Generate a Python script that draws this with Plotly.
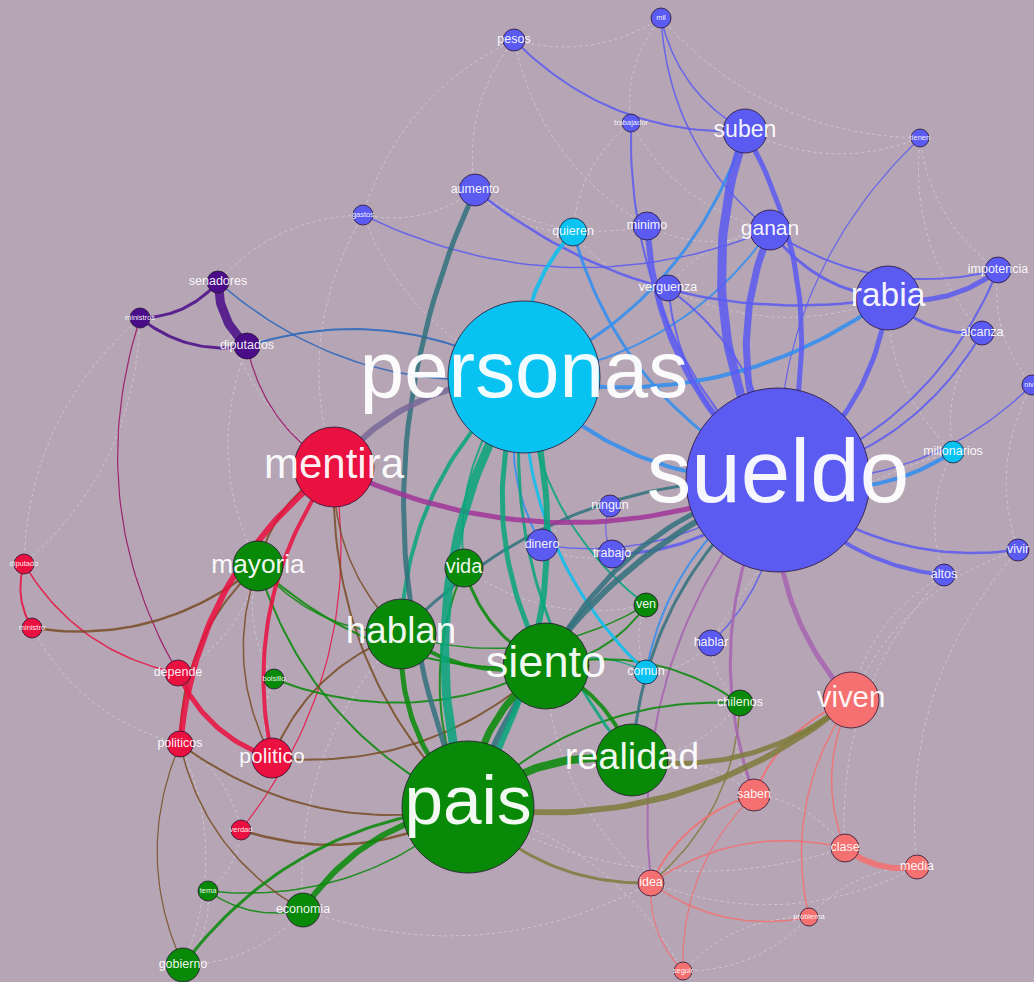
import numpy as np
import plotly.graph_objects as go

# ---------------- data ----------------
node_names = ["personas", "sueldo", "pais", "siento", "hablan", "realidad", "mentira", "mayoria",
              "vida", "viven", "rabia", "suben", "ganan", "aumento", "quieren", "minimo",
              "verguenza", "gastos", "pesos", "mil", "trabajador", "tienen", "impotencia",
              "alcanza", "nivel", "millonarios", "vivir", "altos", "ningun", "dinero", "trabajo",
              "ven", "hablar", "comun", "chilenos", "saben", "clase", "media", "idea", "problema",
              "seguir", "senadores", "ministros", "diputados", "diputado", "ministro", "depende",
              "politicos", "politico", "verdad", "bolsillo", "tema", "economia", "gobierno"]
node_x = [524, 778, 468, 546, 401, 632, 334, 258, 464, 851, 888, 745, 770, 475, 573, 647,
          668, 363, 514, 661, 631, 920, 998, 982, 1032, 953, 1018, 944, 610, 542, 612,
          646, 711, 646, 740, 754, 845, 917, 651, 809, 683, 218, 140, 247, 24, 32, 178,
          180, 272, 241, 274, 208, 303, 183]
node_y = [377, 480, 807, 666, 634, 760, 467, 566, 568, 700, 298, 131, 230, 190, 232, 226,
          288, 215, 40, 18, 123, 138, 270, 333, 385, 452, 550, 575, 506, 545, 554,
          605, 643, 672, 703, 795, 848, 867, 883, 917, 971, 282, 318, 346, 564, 628, 673,
          744, 758, 830, 679, 891, 910, 965]
node_weight = [76, 92, 66, 43, 35, 36, 40, 25, 19, 28, 32, 22, 20, 16, 14, 14,
               13, 10, 11, 10, 9, 9, 13, 12, 10, 11, 11, 11, 11, 16, 14,
               12, 13, 12, 13, 16, 14, 12, 13, 9, 9, 11, 10, 13, 10, 10, 13,
               13, 20, 10, 10, 10, 17, 17]
node_group = ["cyan", "blue", "green", "green", "green", "green", "red", "green",
              "green", "salmon", "blue", "blue", "blue", "blue", "cyan", "blue",
              "blue", "blue", "blue", "blue", "blue", "blue", "blue",
              "blue", "blue", "cyan", "blue", "blue", "blue", "blue", "blue",
              "green", "blue", "cyan", "green", "salmon", "salmon", "salmon", "salmon", "salmon",
              "salmon", "purple", "purple", "purple", "red", "red", "red",
              "red", "red", "red", "green", "green", "green", "green"]

edge_source = ["suben", "sueldo", "ganan", "sueldo", "rabia", "rabia", "ganan", "ganan", "minimo",
               "quieren", "quieren", "aumento", "personas", "personas", "personas", "personas",
               "mentira", "personas", "sueldo", "sueldo", "sueldo", "sueldo", "sueldo", "sueldo",
               "tienen", "trabajo", "dinero", "sueldo", "sueldo", "sueldo", "sueldo", "sueldo",
               "sueldo", "sueldo", "personas", "pais", "personas", "personas", "personas",
               "personas", "personas", "personas", "personas", "personas", "senadores", "pesos",
               "mil", "mil", "trabajador", "gastos", "aumento", "senadores", "ministros",
               "ministros", "diputados", "mentira", "mentira", "depende", "diputado", "ministro",
               "diputado", "mentira", "mentira", "mentira", "mayoria", "mayoria", "mayoria",
               "mayoria", "hablan", "siento", "realidad", "realidad", "hablan", "vida", "vida",
               "pais", "pais", "tema", "tema", "pais", "realidad", "chilenos", "chilenos", "pais",
               "politicos", "verdad", "hablan", "politico", "viven", "viven", "clase", "viven",
               "saben", "idea", "idea", "saben", "siento", "hablan", "politicos", "politicos",
               "mayoria", "bolsillo", "verdad", "hablar", "comun", "sueldo", "ministros", "idea",
               "clase", "verguenza", "sueldo", "ningun"]
edge_target = ["sueldo", "suben", "sueldo", "rabia", "impotencia", "alcanza", "rabia", "impotencia",
               "sueldo", "personas", "sueldo", "pais", "rabia", "suben", "ganan", "mentira",
               "sueldo", "sueldo", "millonarios", "alcanza", "impotencia", "vivir", "altos", "nivel",
               "sueldo", "sueldo", "sueldo", "pais", "siento", "hablan", "viven", "saben",
               "idea", "realidad", "pais", "personas", "hablan", "siento", "realidad",
               "vida", "comun", "dinero", "ven", "diputados", "personas", "suben",
               "suben", "ganan", "sueldo", "ganan", "rabia", "diputados", "senadores",
               "diputados", "mentira", "politicos", "politico", "politico", "ministro", "mayoria",
               "depende", "mayoria", "pais", "hablan", "politicos", "pais", "siento",
               "hablan", "pais", "pais", "pais", "siento", "siento", "siento", "pais",
               "economia", "gobierno", "pais", "economia", "viven", "viven", "pais", "siento", "idea",
               "pais", "pais", "politico", "siento", "saben", "clase", "media", "problema",
               "idea", "problema", "seguir", "seguir", "ven", "ven", "gobierno", "economia",
               "politico", "siento", "mentira", "sueldo", "siento", "comun", "depende", "chilenos",
               "idea", "sueldo", "verguenza", "trabajo"]
edge_weight = [9, 5, 7, 5, 5, 3, 3, 2, 6,
               4, 3, 5, 4, 3, 2, 6,
               5, 4, 4, 2, 2, 2.5, 4, 1.5,
               1.2, 3, 1.5, 6, 5, 3, 5, 3,
               2, 3, 9, 6, 4, 5, 3,
               2, 3, 2, 2, 2, 1.5, 2,
               1.5, 1.5, 2, 1.5, 2.5, 9, 3,
               3, 1.2, 6, 4, 5, 2, 2.5,
               1.5, 2, 2, 1.5, 2, 2, 2,
               1.5, 5, 7, 8, 4, 4, 3, 2,
               6, 3, 1.5, 1.5, 6, 5, 2, 2, 3,
               2, 2.5, 2, 2, 2, 1.5, 6, 1.5,
               2, 1.5, 1.2, 1.2, 2, 1.5, 1.2, 1.5,
               1.5, 2, 1.2, 1.5, 1.5, 2, 1.2, 1.5,
               1.5, 2, 2, 1.2]

faint_source = ["pesos", "pesos", "pesos", "mil", "mil", "trabajador", "trabajador", "gastos",
                "gastos", "gastos", "aumento", "aumento", "quieren", "minimo", "verguenza",
                "tienen", "tienen", "impotencia", "alcanza", "nivel", "millonarios", "vivir",
                "altos", "hablar", "chilenos", "media", "problema", "seguir", "seguir", "idea",
                "gobierno", "gobierno", "gobierno", "tema", "verdad", "politicos", "depende",
                "diputado", "ministro", "ministros", "senadores", "diputados", "mayoria",
                "bolsillo", "vida", "ven", "comun", "dinero", "ningun", "trabajo", "clase",
                "saben", "realidad", "economia", "siento", "hablan", "pais", "suben", "ganan",
                "rabia", "vivir", "altos", "millonarios", "gastos", "pesos"]
faint_target = ["gastos", "mil", "minimo", "trabajador", "tienen", "ganan", "quieren", "aumento",
                "personas", "mentira", "quieren", "minimo", "verguenza", "ganan", "rabia",
                "impotencia", "alcanza", "nivel", "millonarios", "vivir", "altos", "viven",
                "viven", "chilenos", "saben", "problema", "seguir", "pais", "problema", "media",
                "economia", "tema", "politicos", "verdad", "politicos", "depende", "mayoria",
                "ministros", "politicos", "diputado", "mentira", "mayoria", "bolsillo",
                "politico", "ven", "comun", "hablar", "trabajo", "dinero", "ven", "saben",
                "realidad", "chilenos", "idea", "idea", "economia", "clase", "tienen", "verguenza",
                "millonarios", "media", "clase", "hablar", "senadores", "aumento"]

group_colors = {"blue": "#5b5bf2", "cyan": "#08c2f2", "green": "#088a08", "red": "#ea1040",
                "salmon": "#f57070", "purple": "#4a0c88"}
bg = "#b5a5b5"

# ---------------- helpers ----------------
idx = {n: i for i, n in enumerate(node_names)}


def hex2rgb(h):
    h = h.lstrip("#")
    return np.array([int(h[i:i + 2], 16) for i in (0, 2, 4)], dtype=float)


def mix(c1, c2):
    m = (hex2rgb(c1) + hex2rgb(c2)) / 2
    return "rgb(%d,%d,%d)" % tuple(m.astype(int))


def arc(a, b, k=0.22, n=40):
    x0, y0 = node_x[idx[a]], node_y[idx[a]]
    x1, y1 = node_x[idx[b]], node_y[idx[b]]
    mx, my = (x0 + x1) / 2, (y0 + y1) / 2
    dx, dy = x1 - x0, y1 - y0
    cx, cy = mx - k * dy, my + k * dx
    t = np.linspace(0, 1, n)
    xs = (1 - t) ** 2 * x0 + 2 * (1 - t) * t * cx + t ** 2 * x1
    ys = (1 - t) ** 2 * y0 + 2 * (1 - t) * t * cy + t ** 2 * y1
    return xs, ys


fig = go.Figure()

# faint edges
for s, t in zip(faint_source, faint_target):
    xs, ys = arc(s, t)
    fig.add_trace(go.Scatter(x=xs, y=ys, mode="lines", hoverinfo="skip", showlegend=False,
                             line=dict(color="rgba(225,218,228,0.75)", width=0.8, dash="dot")))

# coloured edges (thin first)
order = sorted(range(len(edge_source)), key=lambda i: edge_weight[i])
for i in order:
    s, t, w = edge_source[i], edge_target[i], edge_weight[i]
    col = mix(group_colors[node_group[idx[s]]], group_colors[node_group[idx[t]]])
    xs, ys = arc(s, t)
    fig.add_trace(go.Scatter(x=xs, y=ys, mode="lines", hoverinfo="skip", showlegend=False,
                             opacity=0.85, line=dict(color=col, width=w)))

# nodes
fig.add_trace(go.Scatter(
    x=node_x, y=node_y, mode="markers", hoverinfo="text", text=node_names, showlegend=False,
    opacity=1,
    marker=dict(size=[2 * r for r in node_weight], opacity=1,
                color=[group_colors[g] for g in node_group],
                line=dict(color="rgba(40,20,50,0.8)", width=1))))


def label_size(r):
    if r >= 80:
        return 89
    if r >= 18:
        return r * 1.05
    if r >= 11:
        return 12.5
    return 7.5


fig.add_trace(go.Scatter(
    x=node_x, y=node_y, mode="text", text=node_names, hoverinfo="skip", showlegend=False,
    textposition="middle center",
    textfont=dict(family="Liberation Sans, Arial, sans-serif", color="rgba(255,255,255,0.95)",
                  size=[label_size(r) for r in node_weight])))

fig.update_layout(
    width=1034, height=982, margin=dict(l=0, r=0, t=0, b=0),
    paper_bgcolor=bg, plot_bgcolor=bg,
    xaxis=dict(range=[0, 1034], visible=False, fixedrange=True),
    yaxis=dict(range=[982, 0], visible=False, fixedrange=True),
)

fig.write_html("out.html", config={"displayModeBar": False},
               post_script="document.body.style.margin='0';document.body.style.overflow='hidden';"
                           "document.body.style.background='%s';" % bg)
